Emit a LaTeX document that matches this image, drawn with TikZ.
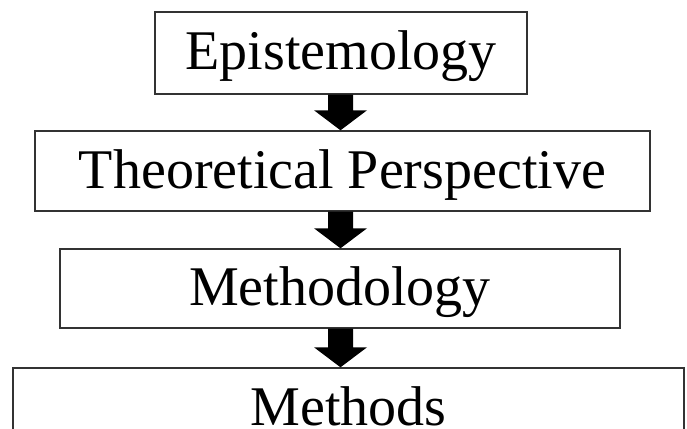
\documentclass[tikz,border=0pt]{standalone}
\usepackage{fontspec}
\setmainfont{Liberation Serif}
\usetikzlibrary{calc}
\tikzset{
  stagebox/.style={draw=black!80, line width=1.4pt, fill=white, inner sep=0pt,
    font=\fontsize{56}{60}\selectfont, text height=40pt, text depth=6pt},
  arrowfill/.style={fill=black}
}
\newcommand\blockarrow[2]{%
  \fill[arrowfill] ($(#1.south -| ax)+(-12.5,0)$) -- ($(#2.north -| ax)+(-12.5,-20)$)
    -- ($(#2.north -| ax)+(-26.5,-20)$) -- (#2.north -| ax)
    -- ($(#2.north -| ax)+(26.5,-20)$) -- ($(#2.north -| ax)+(12.5,-20)$)
    -- ($(#1.south -| ax)+(12.5,0)$) -- cycle;}
\begin{document}
\begin{tikzpicture}[x=1pt,y=-1pt]
\useasboundingbox (0,0) rectangle (687,428);
\clip (0,0) rectangle (687,428);
\fill[white] (0,0) rectangle (687,428);
\coordinate (ax) at (340.5,0);
\node[stagebox, minimum width=372pt, minimum height=82pt] (epi) at (341,53) {Epistemology};
\node[stagebox, minimum width=615pt, minimum height=80pt] (theo) at (342.5,171) {Theoretical Perspective};
\node[stagebox, minimum width=560pt, minimum height=79pt] (meth) at (340,288.5) {Methodology};
\node[stagebox, minimum width=671pt, minimum height=80pt] (mets) at (348.5,408) {Methods};
\blockarrow{epi}{theo}
\blockarrow{theo}{meth}
\blockarrow{meth}{mets}
\end{tikzpicture}
\end{document}
